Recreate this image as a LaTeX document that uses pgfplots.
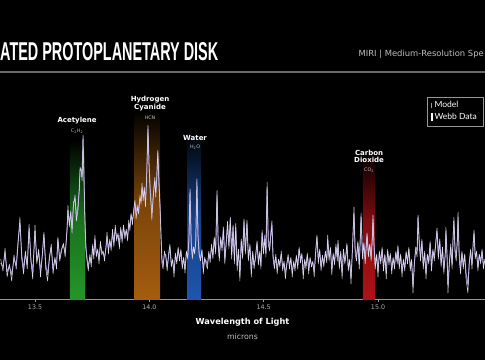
\documentclass[border=0pt]{standalone}
\usepackage{pgfplots}
\pgfplotsset{compat=1.18}
\usepackage{pgfplotstable}
\usepackage{graphicx}
\usepackage{fontspec}
\setmainfont{DejaVu Sans}
\newfontfamily\titlefont{Liberation Sans}
\newfontfamily\legfont{Lato}
\definecolor{datacol}{RGB}{222,220,228}
\definecolor{modelcol}{RGB}{160,140,215}
\definecolor{sepcol}{RGB}{105,105,105}
\definecolor{axcol}{RGB}{150,150,150}
\definecolor{ticklab}{RGB}{175,175,175}
\definecolor{subcol}{RGB}{190,190,190}
\definecolor{bgreen}{RGB}{35,150,40}
\definecolor{borange}{RGB}{165,92,15}
\definecolor{bblue}{RGB}{30,85,175}
\definecolor{bred}{RGB}{175,18,22}

\pgfplotstableread{
lam data model
13.350 40 36
13.360 28 32
13.369 51 46
13.378 22 27
13.388 35 33
13.398 18 24
13.408 44 40
13.418 30 34
13.426 55 58
13.434 82 76
13.442 40 44
13.450 25 30
13.458 48 45
13.466 30 34
13.474 75 70
13.482 38 40
13.490 20 26
13.500 74 68
13.508 35 38
13.516 50 47
13.524 22 28
13.532 45 43
13.539 67 64
13.547 30 34
13.555 18 24
13.563 40 42
13.571 55 52
13.579 25 30
13.587 42 40
13.594 30 34
13.600 62 60
13.608 38 40
13.616 48 50
13.624 56 54
13.632 42 46
13.640 70 68
13.644 94 88
13.650 72 76
13.656 88 86
13.662 66 70
13.668 96 92
13.675 101 104
13.681 78 82
13.688 89 94
13.694 110 112
13.697 132 128
13.702 128 130
13.706 118 122
13.710 160 164
13.714 120 126
13.718 80 84
13.722 50 56
13.727 39 42
13.733 28 32
13.740 45 42
13.746 32 36
13.752 55 52
13.757 40 44
13.762 64 60
13.768 42 46
13.774 50 48
13.780 35 40
13.786 58 55
13.792 44 48
13.798 48 46
13.804 38 42
13.810 52 50
13.815 67 62
13.821 45 50
13.827 60 58
13.833 48 52
13.839 70 66
13.845 52 56
13.851 74 70
13.857 58 62
13.863 66 64
13.869 50 55
13.875 72 70
13.881 56 60
13.887 74 72
13.893 60 64
13.899 70 68
13.905 58 62
13.910 79 76
13.915 68 72
13.920 86 84
13.926 74 78
13.932 90 88
13.937 99 96
13.942 80 86
13.948 92 94
13.953 85 88
13.959 104 100
13.964 95 98
13.968 116 112
13.973 98 102
13.978 112 110
13.983 92 98
13.988 120 118
13.994 174 170
13.999 130 134
14.004 105 110
14.008 92 96
14.011 79 86
14.016 100 98
14.020 110 112
14.024 122 118
14.028 102 106
14.032 118 120
14.037 149 146
14.042 115 118
14.047 90 94
14.051 60 66
14.055 36 40
14.060 30 34
14.066 48 45
14.072 42 44
14.078 28 32
14.084 45 42
14.090 55 52
14.096 32 36
14.102 40 38
14.108 22 28
14.114 46 44
14.120 35 38
14.126 52 50
14.132 38 40
14.138 50 48
14.144 30 34
14.150 42 40
14.156 26 30
14.162 48 46
14.168 40 44
14.173 60 58
14.178 107 110
14.183 55 58
14.188 40 44
14.193 52 50
14.198 45 48
14.203 58 56
14.208 117 120
14.213 60 64
14.218 44 46
14.224 38 40
14.230 50 48
14.236 25 30
14.242 42 40
14.248 35 38
14.254 30 34
14.260 48 46
14.266 36 40
14.272 55 52
14.278 40 44
14.284 62 60
14.290 45 48
14.296 109 104
14.301 55 58
14.306 38 42
14.312 62 60
14.318 48 52
14.324 70 72
14.330 35 40
14.336 55 56
14.342 78 74
14.348 50 54
14.354 82 80
14.360 40 44
14.366 72 74
14.372 35 40
14.378 76 72
14.384 28 34
14.390 50 48
14.396 18 24
14.402 60 58
14.408 40 44
14.414 80 78
14.420 45 48
14.427 79 76
14.433 38 42
14.440 55 52
14.446 22 28
14.452 48 46
14.458 30 34
14.464 42 40
14.471 56 58
14.477 34 38
14.483 48 46
14.488 30 34
14.493 69 66
14.499 45 48
14.505 60 64
14.510 42 46
14.515 117 112
14.520 55 60
14.526 48 50
14.531 62 66
14.536 74 78
14.541 40 44
14.547 30 34
14.553 45 42
14.559 25 30
14.565 40 38
14.571 32 36
14.577 48 45
14.583 28 32
14.589 38 36
14.595 20 26
14.601 35 34
14.607 45 42
14.613 30 34
14.619 42 40
14.625 22 27
14.631 38 36
14.637 28 32
14.643 44 42
14.649 30 34
14.655 52 50
14.661 36 40
14.667 46 44
14.673 20 26
14.679 40 38
14.685 30 34
14.691 46 44
14.697 25 30
14.703 42 40
14.709 32 35
14.715 38 36
14.721 22 28
14.727 45 46
14.733 64 62
14.739 35 40
14.745 50 48
14.751 28 32
14.757 44 42
14.763 32 36
14.770 48 46
14.776 36 40
14.780 64 60
14.786 38 42
14.792 52 50
14.798 24 30
14.804 46 44
14.810 34 38
14.816 55 52
14.822 38 42
14.825 59 56
14.831 30 34
14.837 48 46
14.843 20 26
14.849 50 48
14.855 35 38
14.860 45 44
14.864 56 54
14.870 28 32
14.876 40 38
14.882 15 22
14.888 50 48
14.895 92 86
14.900 45 50
14.906 38 42
14.912 58 56
14.918 30 34
14.926 86 82
14.932 40 46
14.938 55 56
14.944 35 40
14.948 50 52
14.952 66 64
14.958 42 46
14.964 55 54
14.970 38 42
14.975 60 62
14.978 84 80
14.983 50 54
14.988 30 34
14.994 45 44
15.000 22 28
15.006 48 46
15.012 35 38
15.018 52 50
15.024 28 32
15.030 45 44
15.036 20 26
15.042 50 48
15.048 34 38
15.054 46 44
15.060 25 30
15.066 42 40
15.072 30 34
15.078 48 46
15.084 35 38
15.087 54 52
15.093 30 34
15.099 45 44
15.105 22 28
15.111 40 38
15.117 28 32
15.123 48 46
15.129 35 38
15.135 52 50
15.141 28 32
15.147 40 38
15.153 6 14
15.159 35 36
15.165 50 52
15.171 42 48
15.175 82 84
15.180 55 60
15.186 38 42
15.192 60 58
15.198 30 34
15.204 48 46
15.210 20 26
15.216 45 44
15.222 35 38
15.228 58 56
15.234 28 32
15.240 50 48
15.246 38 42
15.252 55 54
15.258 71 68
15.264 40 44
15.270 60 58
15.276 32 36
15.282 52 50
15.288 25 30
15.294 45 44
15.297 72 68
15.302 40 44
15.306 6 14
15.312 35 36
15.318 55 52
15.324 30 34
15.328 60 58
15.332 82 78
15.337 45 50
15.342 38 42
15.347 60 58
15.350 87 82
15.355 40 46
15.361 25 30
15.367 48 46
15.373 30 34
15.379 45 44
15.385 20 26
15.393 6 14
15.399 35 36
15.405 50 48
15.411 30 34
15.416 55 54
15.420 69 66
15.425 40 44
15.431 48 46
15.437 28 32
15.443 45 44
15.449 35 38
15.455 50 48
15.461 30 34
15.467 40 38
}\spec

\begin{document}
\begin{tikzpicture}
\path[use as bounding box] (0,0) rectangle (485pt,360pt);
\clip (0,0) rectangle (485pt,360pt);
\fill[black] (0,0) rectangle (485pt,360pt);
% title
\node[anchor=south west, inner sep=0pt, text=white] at (0pt,299pt)
  {\resizebox{218pt}{18pt}{\titlefont\bfseries ATED PROTOPLANETARY DISK}};
\node[anchor=base east, inner sep=0pt, text=subcol, font=\fontsize{8.4}{9}\selectfont] at (484pt,304pt)
  {MIRI | Medium-Resolution Spe};
\draw[sepcol, line width=1.6pt] (0pt,288pt) -- (485pt,288pt);

\begin{axis}[
  at={(0pt,61pt)}, anchor=south west,
  scale only axis, width=485pt, height=219pt,
  xmin=13.3469, xmax=15.4679, ymin=0, ymax=219,
  axis x line=bottom, axis y line=none,
  x axis line style={-, draw=axcol, line width=0.8pt},
  xtick={13.5,14,14.5,15},
  xticklabel={\pgfmathprintnumber[fixed,fixed zerofill,precision=1]{\tick}},
  /pgf/number format/assume math mode=true,
  xtick style={draw=axcol, line width=0.6pt},
  tick align=outside, major tick length=2.5pt,
  xticklabel style={font=\fontsize{6.3}{7}\selectfont, text=ticklab, yshift=0pt},
  xlabel={{\bfseries\fontsize{8.2}{9}\selectfont Wavelength of Light}\\[2.5pt]{\fontsize{7.8}{9}\selectfont\color{subcol} microns}},
  xlabel style={align=center, text=white, yshift=-2pt},
  legend style={at={(0.9959,0.9224)}, anchor=north east, draw=axcol, fill=black,
    text=white, font=\legfont\fontsize{8.5}{10}\selectfont, inner xsep=4pt, inner ysep=2.5pt,
    row sep=0pt, cells={anchor=west}},
  legend cell align=left,
]
% coloured molecule bands
\addplot[draw=none, top color=black, bottom color=bgreen, middle color=bgreen!75!black, forget plot]
  coordinates {(13.653,0) (13.653,159) (13.719,159) (13.719,0)} -- cycle;
\addplot[draw=none, top color=black, bottom color=borange, middle color=borange!75!black, forget plot]
  coordinates {(13.933,0) (13.933,189) (14.047,189) (14.047,0)} -- cycle;
\addplot[draw=none, top color=black, bottom color=bblue, middle color=bblue!75!black, forget plot]
  coordinates {(14.165,0) (14.165,169) (14.226,169) (14.226,0)} -- cycle;
\addplot[draw=none, top color=black, bottom color=bred, middle color=bred!75!black, forget plot]
  coordinates {(14.934,0) (14.934,149) (14.987,149) (14.987,0)} -- cycle;

\addplot[modelcol, line width=0.9pt, line join=round,
  legend image code/.code={\draw[modelcol, line width=0.8pt] (0.12cm,-0.1cm) -- (0.12cm,0.1cm);}]
  table[x=lam, y=model] {\spec};
\addlegendentry{Model}
\addplot[datacol, line width=0.5pt, line join=round,
  legend image code/.code={\draw[white, line width=1.4pt] (0.12cm,-0.14cm) -- (0.12cm,0.14cm);}]
  table[x=lam, y=data] {\spec};
\addlegendentry{Webb Data}

% labels
\node[text=white, font=\bfseries\fontsize{7}{8}\selectfont] at (axis cs:13.684,178) {Acetylene};
\node[text=subcol, font=\fontsize{4.8}{5}\selectfont] at (axis cs:13.684,168) {C\textsubscript{2}H\textsubscript{2}};
\node[text=white, font=\bfseries\fontsize{7}{8}\selectfont, align=center] at (axis cs:14.003,195.5) {Hydrogen\\[-0.5pt]Cyanide};
\node[text=subcol, font=\fontsize{4.8}{5}\selectfont] at (axis cs:14.003,181) {HCN};
\node[text=white, font=\bfseries\fontsize{7}{8}\selectfont] at (axis cs:14.200,161) {Water};
\node[text=subcol, font=\fontsize{4.8}{5}\selectfont] at (axis cs:14.200,152) {H\textsubscript{2}O};
\node[text=white, font=\bfseries\fontsize{7}{8}\selectfont, align=center] at (axis cs:14.961,142.5) {Carbon\\[-0.5pt]Dioxide};
\node[text=subcol, font=\fontsize{4.8}{5}\selectfont] at (axis cs:14.961,129) {CO\textsubscript{2}};
\end{axis}
\end{tikzpicture}
\end{document}
